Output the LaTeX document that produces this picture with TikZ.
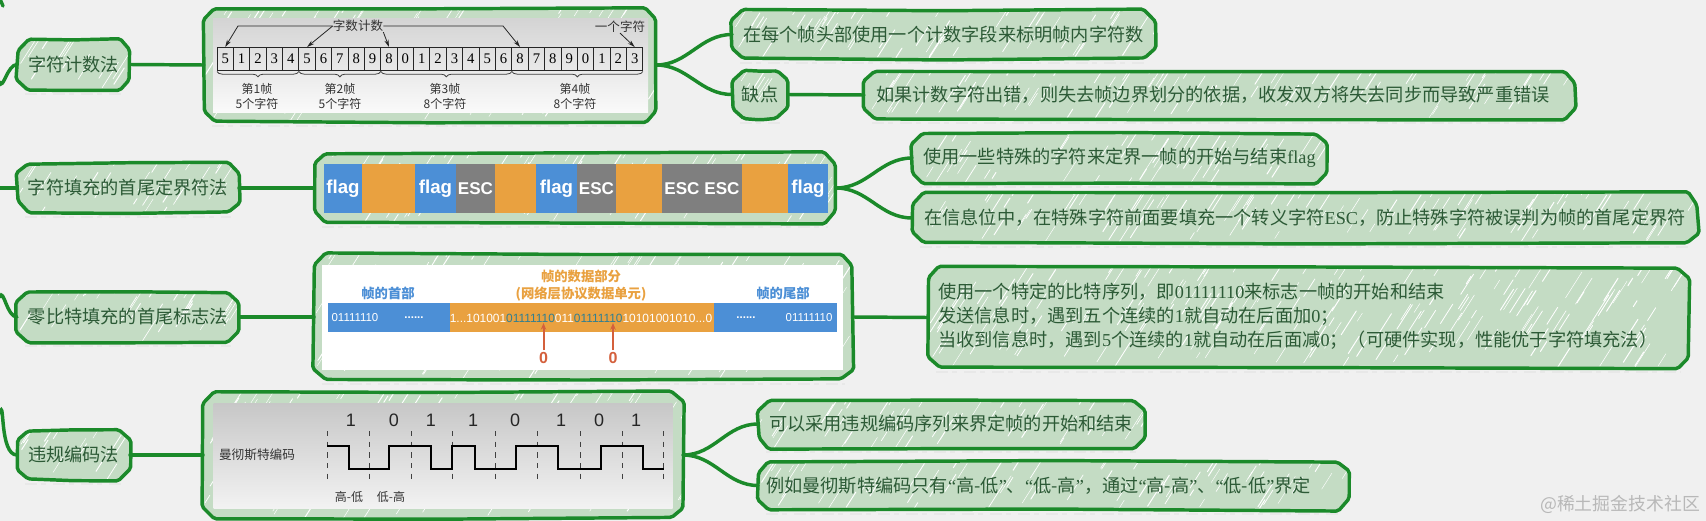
\documentclass[tikz,border=0pt]{standalone}
\usepackage{fontspec}
\setmainfont{Noto Sans CJK SC}
\newfontfamily\lat{Liberation Serif}
\newfontfamily\las{Liberation Sans}
\usetikzlibrary{calc,arrows.meta,decorations.pathreplacing}
\definecolor{bgc}{HTML}{F0F0F0}
\definecolor{gline}{HTML}{1B8A2A}
\definecolor{gfill}{HTML}{C4DCC4}
\definecolor{gtext}{HTML}{2C5A36}
\definecolor{fblue}{HTML}{4C8FD6}
\definecolor{forange}{HTML}{E9A140}
\definecolor{fgray}{HTML}{7F7F7F}
\definecolor{fred}{HTML}{D4603C}
\definecolor{fteal}{HTML}{2F7F92}
\newcommand\hw{100}
\newcommand\hh{50}
\newcommand\rr[1]{\pgfmathsetmacro#1{(rnd-0.5)*2.4}}
\tikzset{
  x=0.75pt,y=-0.75pt,
  sketchshape/.style={draw=gline,fill=gfill,line width=2.6pt,rounded corners=1.5pt,line join=round,
    path picture={
      \pgfmathtruncatemacro\hn{\hw/20*\hh/19}
      \foreach \k in {1,...,\hn}{
        \pgfmathsetmacro\rx{rnd*\hw}
        \pgfmathsetmacro\ry{rnd*\hh}
        \pgfmathsetmacro\rl{0.25+rnd}
        \pgfmathsetmacro\rw{0.3+0.5*rnd}
        \draw[white,line width=\rw pt,line cap=round]
          ($(path picture bounding box.south west)+(\rx,-\ry)$) -- ++(14*\rl,-22*\rl);
      }
    }},
  sketchtext/.style={rectangle,inner sep=0pt,outer sep=0pt,text=gtext,
    font=\fontsize{13.65pt}{19.1pt}\selectfont,align=left},
  ghost/.style={black!9,line width=1.5pt,dash pattern=on 9pt off 3pt on 4pt off 5pt},
  conn/.style={gline,line width=2.6pt,line cap=round},
  cell/.style={draw=black!85,line width=0.7pt,minimum width=16.38*0.75pt,minimum height=17.25pt,inner sep=0pt,outer sep=0pt,font=\lat\fontsize{11pt}{11pt}\selectfont},
  lab/.style={inner sep=0pt,font=\fontsize{9pt}{11.3pt}\selectfont,align=center,text=black!80},
  tip/.style={-{Stealth[length=5.5pt,width=3.2pt]},black!85,line width=0.6pt},
  fl/.style={inner sep=0pt,text=white,font=\las\bfseries\fontsize{14pt}{14pt}\selectfont},
  esc/.style={inner sep=0pt,text=white,font=\las\bfseries\fontsize{12.8pt}{14pt}\selectfont},
  bits/.style={inner sep=0pt,text=white,font=\las\fontsize{8.6pt}{8.6pt}\selectfont},
  head/.style={inner sep=0pt,text=fblue,font=\bfseries\fontsize{10pt}{12pt}\selectfont},
  dhead/.style={inner sep=0pt,text=forange,font=\bfseries\fontsize{10pt}{12.5pt}\selectfont},
  zero/.style={inner sep=0pt,text=fred,font=\las\bfseries\fontsize{12pt}{12pt}\selectfont},
  bit/.style={inner sep=0pt,text=black!85,font=\las\fontsize{13.5pt}{13.5pt}\selectfont}
}
\newcommand\bx[6]{%
  \pgfmathsetmacro\bcx{(#2+#4)/2}\pgfmathsetmacro\bcy{(#3+#5)/2}%
  \pgfmathsetmacro\hw{#4-#2}\pgfmathsetmacro\hh{#5-#3}%
  \rr\ra\rr\rb\rr\rc\rr\rd\rr\re\rr\rf\rr\rg\rr\rh\rr\ri\rr\rj\rr\rk\rr\rl\rr\rm\rr\rn\rr\ro\rr\rp\rr\rq\rr\rs
  \draw[ghost] (#2+8,#5+3.5) -- (#4-8,#5+3.5);
  \path[sketchshape] (#2+11+\ra,#3+\rb) -- (\bcx,#3+\rc) -- (#4-11+\rd,#3+\re) -- (#4+\rf,#3+11+\rg) -- (#4+\rh,#5-11+\ri) -- (#4-11+\rj,#5+\rk) -- (\bcx,#5+\rl) -- (#2+11+\rm,#5+\rn) -- (#2+\ro,#5-11+\rp) -- (#2+\rq,#3+11+\rs) -- cycle;
  \node[sketchtext,minimum width={(#4-#2)*0.75pt},minimum height={(#5-#3)*0.75pt}] (#1) at (\bcx,\bcy) {#6};
}
\begin{document}
\begin{tikzpicture}
\pgfmathsetseed{4217}
\useasboundingbox (0,0) rectangle (1706,521);
\fill[bgc] (0,0) rectangle (1706,521);

% ---- row 1
\bx{a}{17}{39}{130}{90}{字符计数法}
\bx{aimg}{204}{8}{656}{122}{}
\shade[top color=black!17,bottom color=black!2] (213,18) rectangle (648,112);
\foreach \d [count=\i from 0] in {5,1,2,3,4,5,6,7,8,9,8,0,1,2,3,4,5,6,8,7,8,9,0,1,2,3}{
  \node[cell] (c\i) at (225.2+\i*16.38,58.5) {\d};
}
\node[lab,font=\fontsize{9.4pt}{11pt}\selectfont] (cnt) at (358,26) {字数计数};
\node[lab,font=\fontsize{9.4pt}{11pt}\selectfont] (one) at (620,27) {一个字符};
\coordinate (k1) at (238,26);
\coordinate (k2) at (503,26);
\draw[tip] (cnt.west) -- (k1) -- (c0.north);
\draw[tip] (cnt.west) -- (c5.north);
\draw[tip] (cnt.east) -- (k2) -- (c18.north);
\draw[tip] (cnt.south east) -- (c10.north);
\draw[tip] (one.south) -- (c25.north);
\begin{scope}[black!75,line width=0.6pt,decoration={brace,amplitude=4pt,mirror}]
  \draw[decorate] (c0.south west) ++(0,1.5) -- ($(c4.south east)+(0,1.5)$);
  \draw[decorate] (c5.south west) ++(0,1.5) -- ($(c9.south east)+(0,1.5)$);
  \draw[decorate] (c10.south west) ++(0,1.5) -- ($(c17.south east)+(0,1.5)$);
  \draw[decorate] (c18.south west) ++(0,1.5) -- ($(c25.south east)+(0,1.5)$);
\end{scope}
\node[lab] (f1) at (257,96.5) {第1帧\\5个字符};
\node[lab] (f2) at (340,96.5) {第2帧\\5个字符};
\node[lab] (f3) at (445,96.5) {第3帧\\8个字符};
\node[lab] (f4) at (575,96.5) {第4帧\\8个字符};
\bx{a1}{732}{10}{1155}{59}{在每个帧头部使用一个计数字段来标明帧内字符数}
\bx{a2}{732}{70}{788}{119}{缺点}
\bx{a3}{864}{71}{1576}{119}{\hspace{-10.5pt}如果计数字符出错，则失去帧边界划分的依据，收发双方将失去同步而导致严重错误}

% ---- row 2
\bx{b}{17}{163}{239}{213}{字符填充的首尾定界符法}
\bx{bimg}{314}{153}{836}{223}{}
\foreach \xa/\xb/\cc in {324/362/fblue,362/415/forange,415/456/fblue,456/495/fgray,495/536/forange,536/577/fblue,577/616/fgray,616/662/forange,662/742/fgray,742/788/forange,788/828/fblue}{
  \fill[\cc] (\xa,164) rectangle (\xb,213);
}
\node[fl] (g1) at (343,188.5) {flag};
\node[fl] (g2) at (435.5,188.5) {flag};
\node[esc] (e1) at (475.5,188.5) {ESC};
\node[fl] (g3) at (556.5,188.5) {flag};
\node[esc] (e2) at (596.5,188.5) {ESC};
\node[esc] (e3) at (682,188.5) {ESC};
\node[esc] (e4) at (722,188.5) {ESC};
\node[fl] (g4) at (808,188.5) {flag};
\bx{b1}{912}{133}{1327}{183}{使用一些特殊的字符来定界一帧的开始与结束{\lat flag}}
\bx{b2}{912}{193}{1698}{243}{在信息位中，在特殊字符前面要填充一个转义字符{\lat ESC}，防止特殊字符被误判为帧的首尾定界符}

% ---- row 3
\bx{c}{17}{292}{239}{342}{零比特填充的首尾标志法}
\bx{cimg}{314}{254}{853}{380}{}
\fill[white] (322,265) rectangle (843,370);
\fill[fblue] (328,303) rectangle (837,332);
\fill[forange] (450,303) rectangle (714,332);
\node[head] (h1) at (388,293) {帧的首部};
\node[head] (h2) at (783,293) {帧的尾部};
\node[dhead,align=center] (h3) at (581,285.5) {帧的数据部分\\(网络层协议数据单元)};
\node[bits] (s1) at (355,318) {01111110};
\node[bits] (s2) at (414,318) {\textbf{......}};
\node[bits,font=\las\fontsize{8.95pt}{9pt}\selectfont] (s3) at (581,318) {1...101001{\color{fteal}01111110}011{\color{fteal}01111110}10101001010...0};
\node[bits] (s4) at (746,318) {\textbf{......}};
\node[bits] (s5) at (809,318) {01111110};
\node[zero] (z1) at (543.5,358) {0};
\node[zero] (z2) at (613,358) {0};
\coordinate (p1) at (543.5,323);
\coordinate (p2) at (613,323);
\draw[-{Stealth[length=5pt,width=4pt]},fred,line width=1.5pt] (z1.north) ++(0,-2) -- (p1);
\draw[-{Stealth[length=5pt,width=4pt]},fred,line width=1.5pt] (z2.north) ++(0,-2) -- (p2);
\bx{c1}{928}{267}{1689}{368}{\hspace{-16pt}\begin{tabular}{@{}l@{}}使用一个特定的比特序列，即{\lat 01111110}来标志一帧的开始和结束\\[-1pt]发送信息时，遇到五个连续的{\lat 1}就自动在后面加{\lat 0}；\\[-1pt]当收到信息时，遇到{\lat 5}个连续的{\lat 1}就自动在后面减{\lat 0}；（可硬件实现，性能优于字符填充法）\end{tabular}}

% ---- row 4
\bx{d}{17}{430}{130}{480}{违规编码法}
\bx{dimg}{203}{392}{683}{518}{}
\shade[top color=black!22,bottom color=black!5] (213.5,403) rectangle (672.6,508);
\node[lab,font=\fontsize{9.5pt}{11pt}\selectfont] (man) at (257,455) {曼彻斯特编码};
\foreach \bb/\xx/\nn in {1/351/1,0/394/2,1/431/3,1/473/4,0/515/5,1/561/6,0/599/7,1/636/8}{
  \node[bit] (bit\nn) at (\xx,420) {\bb};
}
\foreach \xx in {327,369,411,452,495,537,580,622,663.5}{
  \draw[black!75,line width=0.6pt,dash pattern=on 4pt off 4pt] (\xx,431) -- (\xx,482);
}
\draw[black,line width=1.4pt] (327,446) -| (349,469) -| (389,446) -| (431,469) -| (452,446) -| (475,469) -| (516,446) -| (558,469) -| (601,446) -| (643,469) -- (663.5,469);
\node[lab] (hl) at (349,497) {高-低};
\node[lab] (lh) at (391,497) {低-高};
\bx{d1}{758}{400}{1144}{448}{可以采用违规编码序列来界定帧的开始和结束}
\bx{d2}{758}{461}{1349}{510}{\hspace{-22.5pt}例如曼彻斯特编码只有{\lat “}高-低{\lat ”}、{\lat “}低-高{\lat ”}，通过{\lat “}高-高{\lat ”}、{\lat “}低-低{\lat ”}界定}
\node[inner sep=0pt,text=black!28,font=\fontsize{13.4pt}{14pt}\selectfont] (wm) at (1620,504) {@稀土掘金技术社区};

% ---- connectors
\coordinate (t0) at (0,-1);
\coordinate (t0b) at (3,6);
\coordinate (t1) at (0,82);
\coordinate (t2) at (0,188);
\coordinate (t3) at (0,297);
\coordinate (t4) at (0,413);
\draw[conn] (t0) -- (t0b);
\draw[conn] (t1) to[out=-75,in=180] (a.west);
\draw[conn] (t2) -- (b.west);
\draw[conn] (t3) to[out=70,in=180] (c.west);
\draw[conn] (t4) to[out=75,in=180] (d.west);
\draw[conn] (a.east) -- (aimg.west);
\draw[conn] (b.east) -- (bimg.west);
\draw[conn] (c.east) -- (cimg.west);
\draw[conn] (d.east) -- (dimg.west);
\draw[conn] (aimg.east) to[out=0,in=180] (a1.west);
\draw[conn] (aimg.east) to[out=0,in=180] (a2.west);
\draw[conn] (a2.east) -- (a3.west);
\draw[conn] (bimg.east) to[out=0,in=180] (b1.west);
\draw[conn] (bimg.east) to[out=0,in=180] (b2.west);
\draw[conn] (cimg.east) -- (c1.west);
\draw[conn] (dimg.east) to[out=0,in=180] (d1.west);
\draw[conn] (dimg.east) to[out=0,in=180] (d2.west);
\end{tikzpicture}
\end{document}
